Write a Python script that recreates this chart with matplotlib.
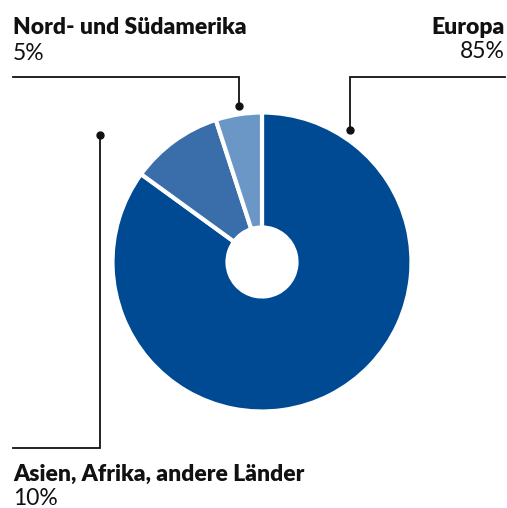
import matplotlib
matplotlib.use("Agg")
import matplotlib.pyplot as plt

labels = ["Europa", "Asien, Afrika, andere Länder", "Nord- und Südamerika"]
values = [85, 10, 5]
pct_labels = ["85%", "10%", "5%"]
colors = ["#004A93", "#3A6EAA", "#6B97C6"]

W, H = 507, 508
fig = plt.figure(figsize=(W / 100, H / 100), dpi=100)
ax = fig.add_axes([0, 0, 1, 1])
ax.set_xlim(0, W)
ax.set_ylim(0, H)
ax.axis("off")

def Y(y):
    return H - y

cx, cy, R, r_in = 262, 262, 149.5, 34.5
ax.pie(values, colors=colors, startangle=90, counterclock=False,
       center=(cx, Y(cy)), radius=R,
       wedgeprops=dict(width=R - r_in, edgecolor="white", linewidth=3))
ax.set_xlim(0, W)
ax.set_ylim(0, H)
ax.set_aspect("auto")

lc = "#111111"
lw = 1.3
# America leader
ax.plot([13, 239, 239], [Y(77), Y(77), Y(106)], color=lc, lw=lw, solid_joinstyle="miter")
ax.plot([239], [Y(106)], "o", color=lc, ms=5)
# Europa leader
ax.plot([350, 350, 505], [Y(130), Y(77), Y(77)], color=lc, lw=lw, solid_joinstyle="miter")
ax.plot([350], [Y(130)], "o", color=lc, ms=5)
# Asia leader
ax.plot([100, 100, 13], [Y(135), Y(448), Y(448)], color=lc, lw=lw, solid_joinstyle="miter")
ax.plot([100], [Y(135)], "o", color=lc, ms=5)

fam = ["Lato", "DejaVu Sans"]
fs = 16.5
ax.text(13, Y(34), labels[2], fontsize=fs, fontweight="heavy", family=fam, va="baseline", ha="left", color="#111111")
ax.text(13, Y(60), pct_labels[2], fontsize=fs, family=fam, va="baseline", ha="left", color="#111111")
ax.text(505, Y(34), labels[0], fontsize=fs, fontweight="heavy", family=fam, va="baseline", ha="right", color="#111111")
ax.text(505, Y(58), pct_labels[0], fontsize=fs, family=fam, va="baseline", ha="right", color="#111111")
ax.text(13, Y(481), labels[1], fontsize=fs, fontweight="heavy", family=fam, va="baseline", ha="left", color="#111111")
ax.text(13, Y(505), pct_labels[1], fontsize=fs, family=fam, va="baseline", ha="left", color="#111111")

fig.savefig("out.png", dpi=100)
